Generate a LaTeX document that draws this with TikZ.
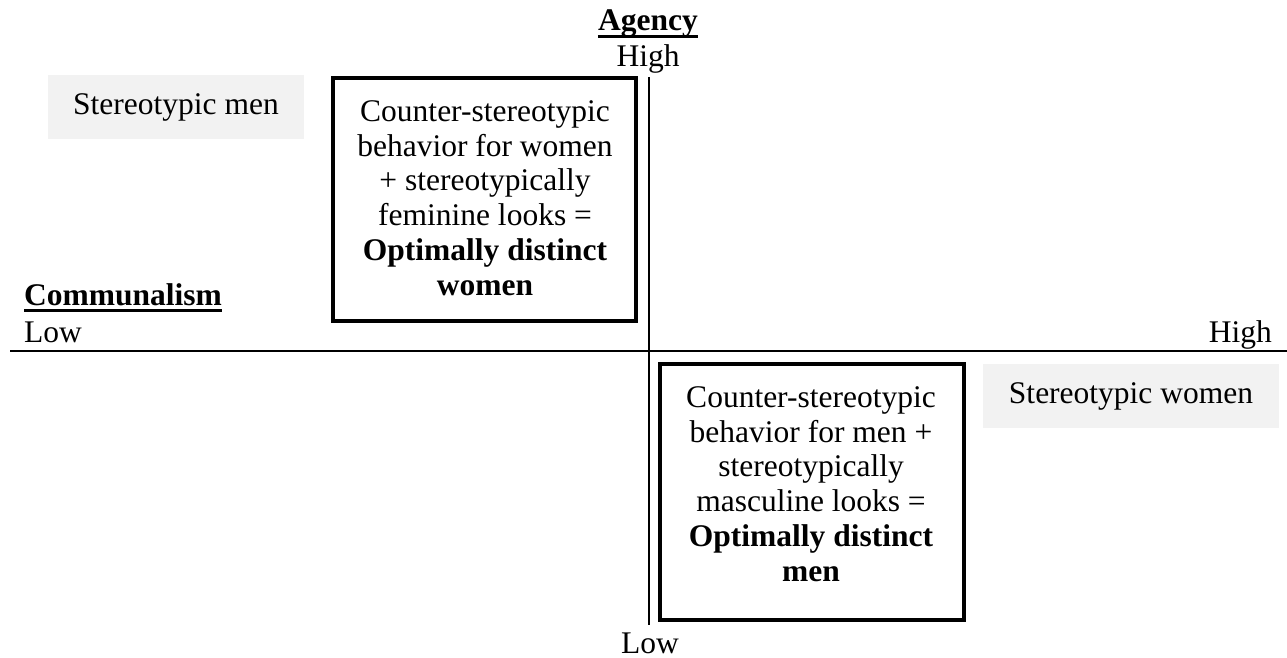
\documentclass[tikz,border=0pt]{standalone}
\usepackage{fontspec}
\setmainfont{Liberation Serif}
\begin{document}
\begin{tikzpicture}[x=1pt,y=-1pt,
  font=\fontsize{31.5}{34.7}\selectfont,
  axis/.style={line width=1.8pt},
  quad/.style={draw, line width=4pt, inner sep=0pt},
  quadtext/.style={align=center, inner sep=0pt},
  stereo/.style={fill=black!5, inner sep=0pt},
  lbl/.style={inner sep=0pt},
  ul/.style={line width=3pt}]
\useasboundingbox (0,0) rectangle (1287,658);
% axes
\coordinate (vtop) at (649,77);
\coordinate (vbot) at (649,625);
\coordinate (hleft) at (10,351);
\coordinate (hright) at (1287,351);
\draw[axis] (vtop) -- (vbot);
\draw[axis] (hleft) -- (hright);
% axis labels
\node[lbl, anchor=base] (agency) at (648,31) {\textbf{Agency}};
\draw[ul] ([yshift=-5.5pt]agency.base west) -- ([yshift=-5.5pt]agency.base east);
\node[lbl, anchor=base] (ahigh) at (648,67) {High};
\node[lbl, anchor=base] (alow) at (650,653) {Low};
\node[lbl, anchor=base west] (comm) at (24,305) {\textbf{Communalism}};
\draw[ul] ([yshift=-5.5pt]comm.base west) -- ([yshift=-5.5pt]comm.base east);
\node[lbl, anchor=base west] (clow) at (24,342) {Low};
\node[lbl, anchor=base east] (chigh) at (1272,342) {High};
% stereotypic boxes
\node[stereo, minimum width=256pt, minimum height=64pt] (smen) at (176,107) {Stereotypic men};
\node[stereo, minimum width=296pt, minimum height=64pt] (swomen) at (1131,396) {Stereotypic women};
% optimally distinct boxes
\node[quad, minimum width=303pt, minimum height=243pt] (odw) at (484.5,199.5) {};
\node[quadtext] (odwt) at (485,198) {Counter-stereotypic\\behavior for women\\+ stereotypically\\feminine looks =\\\textbf{Optimally distinct}\\\textbf{women}};
\node[quad, minimum width=304pt, minimum height=256pt] (odm) at (812,492) {};
\node[quadtext] (odmt) at (811,484) {Counter-stereotypic\\behavior for men +\\stereotypically\\masculine looks =\\\textbf{Optimally distinct}\\\textbf{men}};
\end{tikzpicture}
\end{document}
